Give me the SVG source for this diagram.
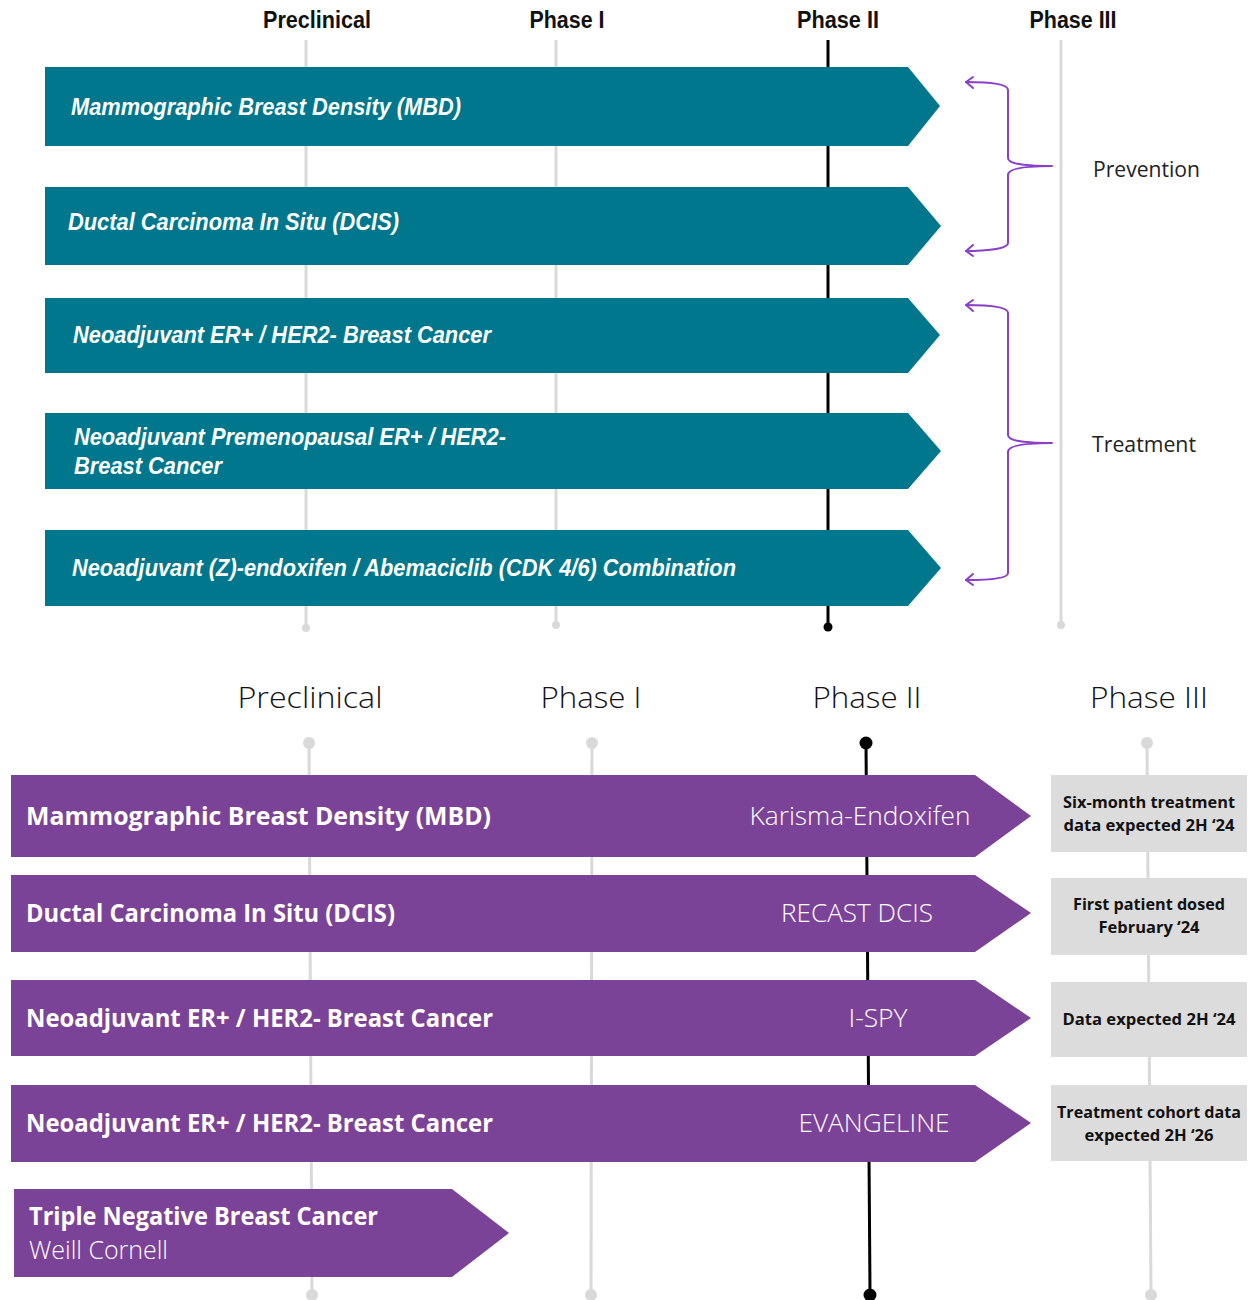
<svg xmlns="http://www.w3.org/2000/svg" width="1248" height="1300" viewBox="0 0 1248 1300">
<style>
.th{font-family:"Liberation Sans",Arial,sans-serif;font-weight:bold;font-size:23px;fill:#111;text-anchor:middle}
.tb{font-family:"Liberation Sans",Arial,sans-serif;font-weight:bold;font-style:italic;font-size:23px;fill:#fff}
.side{font-family:"Open Sans","Liberation Sans",sans-serif;font-size:22px;fill:#222}
.bh{font-family:"Open Sans","Liberation Sans",sans-serif;font-weight:300;font-size:29px;fill:#111;text-anchor:middle}
.pb{font-family:"Open Sans","Liberation Sans",sans-serif;font-weight:bold;font-size:25px;fill:#fff}
.pw{font-family:"Open Sans","Liberation Sans",sans-serif;font-weight:300;font-size:25px;fill:#fff}
.pl{font-family:"Open Sans","Liberation Sans",sans-serif;font-weight:300;font-size:25px;fill:#fff;text-anchor:middle}
.gt{font-family:"Open Sans","Liberation Sans",sans-serif;font-weight:bold;font-size:16px;fill:#111;text-anchor:middle}
.teal{fill:#00778C}
.purp{fill:#7B4397}
.gbox{fill:#DCDCDC}
.gl{stroke:#D9D9D9;stroke-width:3;fill:none}
.bl{stroke:#000;stroke-width:3;fill:none}
.br{stroke:#8A3FC9;stroke-width:2;fill:none;stroke-linecap:round;stroke-linejoin:round}
</style>

<g id="connectors">
  <line class="gl" x1="306" y1="40" x2="306" y2="627"/>
  <line class="gl" x1="556" y1="40" x2="556" y2="624"/>
  <line class="bl" x1="828" y1="40" x2="828" y2="627"/>
  <line class="gl" x1="1061" y1="40" x2="1061" y2="625"/>
  <circle cx="306" cy="628" r="4" fill="#D9D9D9"/>
  <circle cx="556" cy="625" r="4" fill="#D9D9D9"/>
  <circle cx="828" cy="627" r="4.5" fill="#000"/>
  <circle cx="1061" cy="625" r="4" fill="#D9D9D9"/>
  <line class="gl" x1="309" y1="743" x2="312" y2="1293"/>
  <line class="gl" x1="592" y1="743" x2="591" y2="1293"/>
  <line class="bl" x1="866" y1="743" x2="870" y2="1293"/>
  <line class="gl" x1="1147" y1="743" x2="1151" y2="1293"/>
  <circle cx="309" cy="743" r="6" fill="#D9D9D9"/>
  <circle cx="592" cy="743" r="6" fill="#D9D9D9"/>
  <circle cx="866" cy="743" r="6.5" fill="#000"/>
  <circle cx="1147" cy="743" r="6" fill="#D9D9D9"/>
  <circle cx="312" cy="1295" r="6" fill="#D9D9D9"/>
  <circle cx="591" cy="1295" r="6" fill="#D9D9D9"/>
  <circle cx="870" cy="1295" r="6.5" fill="#000"/>
  <circle cx="1151" cy="1295" r="6" fill="#D9D9D9"/>
  <path class="br" d="M966,82 C985,82 1008,83 1008,90 L1008,158 C1008,165 1030,166 1052,166 C1030,166 1008,168 1008,175 L1008,243 C1008,249 985,251 966,251"/>
  <path class="br" d="M973,77 L966,82 L973,88"/>
  <path class="br" d="M973,245 L966,251 L973,256"/>
  <path class="br" d="M966,305 C985,305 1008,306 1008,313 L1008,435 C1008,442 1030,443 1052,443 C1030,443 1008,445 1008,452 L1008,573 C1008,579 985,580 966,580"/>
  <path class="br" d="M973,300 L966,305 L973,311"/>
  <path class="br" d="M973,574 L966,580 L973,585"/>
</g>

<g id="top-header">
  <text class="th" x="317" y="28" textLength="108" lengthAdjust="spacingAndGlyphs">Preclinical</text>
  <text class="th" x="567" y="28" textLength="75" lengthAdjust="spacingAndGlyphs">Phase I</text>
  <text class="th" x="838" y="28" textLength="82" lengthAdjust="spacingAndGlyphs">Phase II</text>
  <text class="th" x="1073" y="28" textLength="87" lengthAdjust="spacingAndGlyphs">Phase III</text>
</g>

<g id="t1"><polygon class="teal" points="45,67 908,67 940,106 908,146 45,146"/><text class="tb" x="71" y="115" textLength="390" lengthAdjust="spacingAndGlyphs">Mammographic Breast Density (MBD)</text></g>
<g id="t2"><polygon class="teal" points="45,187 908,187 941,226 908,265 45,265"/><text class="tb" x="68" y="230" textLength="331" lengthAdjust="spacingAndGlyphs">Ductal Carcinoma In Situ (DCIS)</text></g>
<g id="t3"><polygon class="teal" points="45,298 908,298 940,335 908,373 45,373"/><text class="tb" x="73" y="343" textLength="418" lengthAdjust="spacingAndGlyphs">Neoadjuvant ER+ / HER2- Breast Cancer</text></g>
<g id="t4"><polygon class="teal" points="45,413 908,413 941,451 908,489 45,489"/><text class="tb" x="74" y="445" textLength="432" lengthAdjust="spacingAndGlyphs">Neoadjuvant Premenopausal ER+ / HER2-</text><text class="tb" x="74" y="474" textLength="148" lengthAdjust="spacingAndGlyphs">Breast Cancer</text></g>
<g id="t5"><polygon class="teal" points="45,530 908,530 941,568 908,606 45,606"/><text class="tb" x="72" y="576" textLength="664" lengthAdjust="spacingAndGlyphs">Neoadjuvant (Z)-endoxifen / Abemaciclib (CDK 4/6) Combination</text></g>

<g id="prevention"><text class="side" x="1093" y="177" textLength="107" lengthAdjust="spacingAndGlyphs">Prevention</text></g>
<g id="treatment"><text class="side" x="1092" y="452" textLength="104" lengthAdjust="spacingAndGlyphs">Treatment</text></g>

<g id="bottom-header">
  <text class="bh" x="310" y="708" textLength="145" lengthAdjust="spacingAndGlyphs">Preclinical</text>
  <text class="bh" x="591" y="708" textLength="101" lengthAdjust="spacingAndGlyphs">Phase I</text>
  <text class="bh" x="867" y="708" textLength="109" lengthAdjust="spacingAndGlyphs">Phase II</text>
  <text class="bh" x="1149" y="708" textLength="118" lengthAdjust="spacingAndGlyphs">Phase III</text>
</g>

<g id="p1"><polygon class="purp" points="11,775 975,775 1031,816 975,857 11,857"/><text class="pb" x="26" y="825" textLength="465" lengthAdjust="spacingAndGlyphs">Mammographic Breast Density (MBD)</text><text class="pl" x="860" y="825" textLength="221" lengthAdjust="spacingAndGlyphs">Karisma-Endoxifen</text></g>
<g id="p2"><polygon class="purp" points="11,875 975,875 1031,913 975,952 11,952"/><text class="pb" x="26" y="922" textLength="369" lengthAdjust="spacingAndGlyphs">Ductal Carcinoma In Situ (DCIS)</text><text class="pl" x="857" y="922" textLength="152" lengthAdjust="spacingAndGlyphs">RECAST DCIS</text></g>
<g id="p3"><polygon class="purp" points="11,980 975,980 1031,1018 975,1056 11,1056"/><text class="pb" x="26" y="1027" textLength="467" lengthAdjust="spacingAndGlyphs">Neoadjuvant ER+ / HER2- Breast Cancer</text><text class="pl" x="878" y="1027" textLength="59" lengthAdjust="spacingAndGlyphs">I-SPY</text></g>
<g id="p4"><polygon class="purp" points="11,1085 975,1085 1031,1123 975,1162 11,1162"/><text class="pb" x="26" y="1132" textLength="467" lengthAdjust="spacingAndGlyphs">Neoadjuvant ER+ / HER2- Breast Cancer</text><text class="pl" x="874" y="1132" textLength="151" lengthAdjust="spacingAndGlyphs">EVANGELINE</text></g>
<g id="p5"><polygon class="purp" points="14,1189 452,1189 509,1233 452,1277 14,1277"/><text class="pb" x="29" y="1225" textLength="349" lengthAdjust="spacingAndGlyphs">Triple Negative Breast Cancer</text><text class="pw" x="29" y="1259" textLength="139" lengthAdjust="spacingAndGlyphs">Weill Cornell</text></g>

<g id="g1"><rect class="gbox" x="1051" y="775" width="196" height="77"/><text class="gt" x="1149" y="808" textLength="172" lengthAdjust="spacingAndGlyphs">Six-month treatment</text><text class="gt" x="1149" y="831" textLength="171" lengthAdjust="spacingAndGlyphs">data expected 2H ‘24</text></g>
<g id="g2"><rect class="gbox" x="1051" y="878" width="196" height="77"/><text class="gt" x="1149" y="910" textLength="152" lengthAdjust="spacingAndGlyphs">First patient dosed</text><text class="gt" x="1149" y="933" textLength="101" lengthAdjust="spacingAndGlyphs">February ‘24</text></g>
<g id="g3"><rect class="gbox" x="1051" y="982" width="196" height="75"/><text class="gt" x="1149" y="1025" textLength="173" lengthAdjust="spacingAndGlyphs">Data expected 2H ‘24</text></g>
<g id="g4"><rect class="gbox" x="1051" y="1085" width="196" height="76"/><text class="gt" x="1149" y="1118" textLength="184" lengthAdjust="spacingAndGlyphs">Treatment cohort data</text><text class="gt" x="1149" y="1141" textLength="129" lengthAdjust="spacingAndGlyphs">expected 2H ‘26</text></g>
</svg>
